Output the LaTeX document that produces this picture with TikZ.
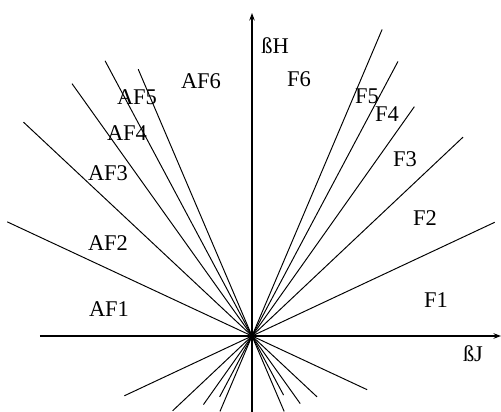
\documentclass[tikz,border=0pt]{standalone}
\usepackage{fontspec}
\setmainfont{Liberation Serif}
\usetikzlibrary{arrows.meta}

\begin{document}
\begin{tikzpicture}[x=0.02cm, y=0.02cm,
  font=\fontsize{12.8}{14}\selectfont,
  axis/.style={-{Stealth[length=1.5mm, width=1.1mm]}, line width=0.6pt},
  bound/.style={line width=0.55pt},
  lab/.style={inner sep=0pt}
]
\useasboundingbox (-252,-76) rectangle (249,336);

\coordinate (O) at (0,0);
\coordinate (jmin) at (-212,0);
\coordinate (jmax) at (249,0);
\coordinate (hmin) at (0,-76);
\coordinate (hmax) at (0,323);

\draw[axis] (jmin) -- (jmax);
\draw[axis] (hmin) -- (hmax);

% phase boundaries, F side
\coordinate (f12) at (25.1:268);  \coordinate (f12b) at (205.1:141);
\coordinate (f23) at (43.3:290);  \coordinate (f23b) at (223.3:109);
\coordinate (f34) at (54.7:281);  \coordinate (f34b) at (234.7:84);
\coordinate (f45) at (62.0:311);  \coordinate (f45b) at (242.0:69);
\coordinate (f56) at (67.0:333);  \coordinate (f56b) at (247.0:82);

% phase boundaries, AF side
\coordinate (af12) at (155.0:270); \coordinate (af12b) at (-25.0:127);
\coordinate (af23) at (136.9:313); \coordinate (af23b) at (-43.1:89);
\coordinate (af34) at (125.5:310); \coordinate (af34b) at (-54.5:83);
\coordinate (af45) at (118.1:312); \coordinate (af45b) at (-61.9:67);
\coordinate (af56) at (113.1:290); \coordinate (af56b) at (-66.9:82);

\draw[bound] (f12b) -- (f12);
\draw[bound] (f23b) -- (f23);
\draw[bound] (f34b) -- (f34);
\draw[bound] (f45b) -- (f45);
\draw[bound] (f56b) -- (f56);

\draw[bound] (af12b) -- (af12);
\draw[bound] (af23b) -- (af23);
\draw[bound] (af34b) -- (af34);
\draw[bound] (af45b) -- (af45);
\draw[bound] (af56b) -- (af56);

\node[lab] (bH) at (23,290) {ßH};
\node[lab] (bJ) at (221,-18) {ßJ};

\node[lab] (F1) at (184,36) {F1};
\node[lab] (F2) at (173,118) {F2};
\node[lab] (F3) at (153,177) {F3};
\node[lab] (F4) at (135,222) {F4};
\node[lab] (F5) at (115,240) {F5};
\node[lab] (F6) at (47,257) {F6};

\node[lab] (AF1) at (-143,27) {AF1};
\node[lab] (AF2) at (-144,93) {AF2};
\node[lab] (AF3) at (-144,163) {AF3};
\node[lab] (AF4) at (-125,203) {AF4};
\node[lab] (AF5) at (-115,239) {AF5};
\node[lab] (AF6) at (-51,255) {AF6};

\end{tikzpicture}
\end{document}
